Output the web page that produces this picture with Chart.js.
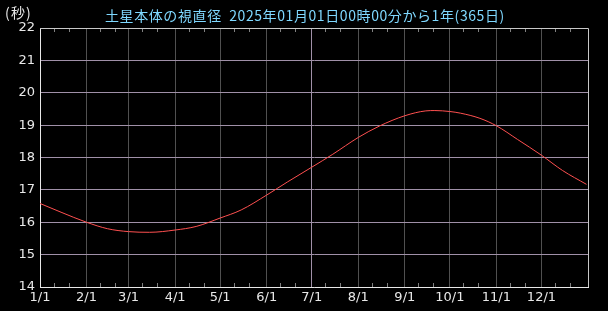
<!DOCTYPE html>
<html>
<head>
<meta charset="utf-8">
<script src="https://cdn.jsdelivr.net/npm/chart.js@4/dist/chart.umd.min.js"></script>
<style>
html,body{margin:0;padding:0;background:#000;}
#wrap{width:608px;height:311px;}
</style>
</head>
<body>
<div id="wrap"><canvas id="c" width="608" height="311"></canvas></div>
<script>
// Data (day of year from 2025-01-01, apparent diameter in arcsec)
const titleText = '土星本体の視直径  2025年01月01日00時00分から1年(365日)';
const yUnit = '(秒)';
const days = [0, 14, 31, 45, 59, 73, 90, 104, 120, 134, 151, 165, 181, 195, 212, 226, 243, 257, 263, 273, 280, 293, 304, 318, 334, 348, 364];
const diam = [16.58, 16.31, 16.00, 15.80, 15.71, 15.69, 15.76, 15.87, 16.13, 16.38, 16.84, 17.25, 17.70, 18.10, 18.62, 18.97, 19.29, 19.44, 19.45, 19.42, 19.37, 19.21, 18.98, 18.56, 18.07, 17.60, 17.17];
const monthStarts = [0, 31, 59, 90, 120, 151, 181, 212, 243, 273, 304, 334];
const monthLabels = ['1/1','2/1','3/1','4/1','5/1','6/1','7/1','8/1','9/1','10/1','11/1','12/1'];
const yMin = 14, yMax = 22;

const points = days.map((d, i) => ({x: d, y: diam[i]}));

function fitText(ctx, text, x, y, width) {
  ctx.letterSpacing = '0px';
  const w = ctx.measureText(text).width;
  const n = [...text].length;
  const ls = Math.max(0, (width - w) / n);
  ctx.letterSpacing = ls.toFixed(2) + 'px';
  ctx.fillText(text, x, y);
  ctx.letterSpacing = '0px';
}

const deco = {
  id: 'deco',
  afterDraw(chart) {
    const ctx = chart.ctx, a = chart.chartArea, xs = chart.scales.x;
    ctx.save();
    // minor ticks at 10th and 20th of each month
    ctx.strokeStyle = '#808080';
    ctx.lineWidth = 1;
    monthStarts.forEach(m => {
      [9, 19].forEach(o => {
        const d = m + o;
        if (d > 365) return;
        const px = Math.round(xs.getPixelForValue(d)) + 0.5;
        ctx.beginPath();
        ctx.moveTo(px, a.top); ctx.lineTo(px, a.top + 4);
        ctx.moveTo(px, a.bottom); ctx.lineTo(px, a.bottom - 4);
        ctx.stroke();
      });
    });
    // top and right border
    ctx.strokeStyle = '#c8c8c8';
    ctx.beginPath();
    ctx.moveTo(a.left, a.top + 0.5); ctx.lineTo(a.right + 0.5, a.top + 0.5);
    ctx.lineTo(a.right + 0.5, a.bottom);
    ctx.stroke();
    // title and unit
    ctx.font = '14px "Noto Sans CJK JP", "DejaVu Sans", sans-serif';
    ctx.textBaseline = 'middle';
    ctx.fillStyle = '#7fd8ff';
    ctx.textAlign = 'left';
    fitText(ctx, titleText, 105, 16, 400);
    ctx.fillStyle = '#e8e8e8';
    fitText(ctx, yUnit, 5, 13, 27);
    ctx.restore();
  }
};

new Chart(document.getElementById('c'), {
  type: 'line',
  data: {
    datasets: [{
      data: points,
      borderColor: '#ff5050',
      borderWidth: 1,
      pointRadius: 0,
      fill: false,
      cubicInterpolationMode: 'monotone'
    }]
  },
  options: {
    responsive: false,
    animation: false,
    layout: {padding: {top: 28, right: 20, left: 0, bottom: 0}},
    plugins: {legend: {display: false}, title: {display: false}, tooltip: {enabled: false}},
    scales: {
      x: {
        type: 'linear',
        min: 0, max: 365,
        afterBuildTicks(s) { s.ticks = monthStarts.map(v => ({value: v})); },
        afterFit(s) { s.height = 24; },
        ticks: {
          autoSkip: false, maxRotation: 0, padding: 3,
          color: '#e8e8e8',
          font: {family: '"DejaVu Sans", sans-serif', size: 13},
          callback(v) { const i = monthStarts.indexOf(v); return i >= 0 ? monthLabels[i] : ''; }
        },
        grid: {
          drawTicks: false,
          color(c) { return c.tick && c.tick.value === 181 ? '#a090a8' : '#505050'; },
          lineWidth: 1
        },
        border: {color: '#e8e8e8', width: 1}
      },
      y: {
        min: yMin, max: yMax,
        afterFit(s) { s.width = 40; },
        ticks: {
          stepSize: 1, padding: 5,
          color: '#e8e8e8',
          font: {family: '"DejaVu Sans", sans-serif', size: 13}
        },
        grid: {
          drawTicks: false,
          color(c) { return c.tick && c.tick.value === yMax ? '#c8c8c8' : '#a090a8'; },
          lineWidth: 1
        },
        border: {color: '#e8e8e8', width: 1}
      }
    }
  },
  plugins: [deco]
});
</script>
</body>
</html>
